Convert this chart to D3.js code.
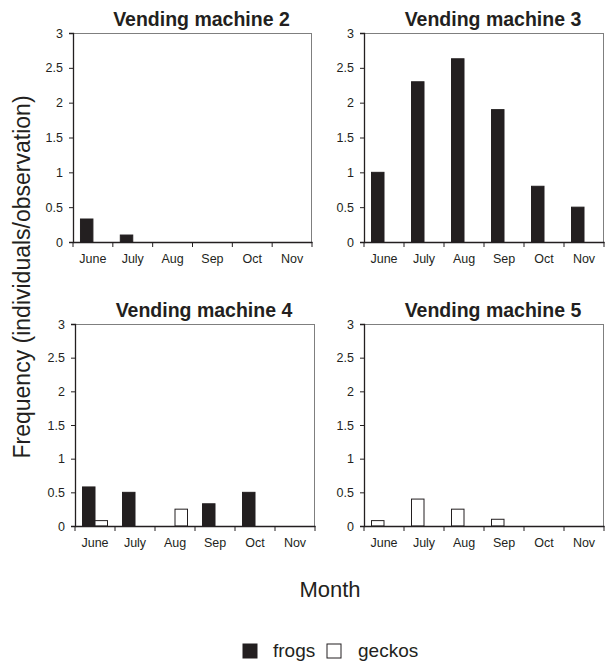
<!DOCTYPE html>
<html><head><meta charset="utf-8">
<script src="https://cdn.jsdelivr.net/npm/d3@7"></script>
<style>body{margin:0;background:#fff;} text{font-family:"Liberation Sans",Arial,sans-serif;fill:#231f20;}</style>
</head><body>
<svg id="chart" width="605" height="664"></svg>
<script>
const months = ["June","July","Aug","Sep","Oct","Nov"];
const seriesNames = ["frogs","geckos"];
const vm2Frogs  = [0.33, 0.1, 0, 0, 0, 0];
const vm2Geckos = [0, 0, 0, 0, 0, 0];
const vm3Frogs  = [1.0, 2.3, 2.63, 1.9, 0.8, 0.5];
const vm3Geckos = [0, 0, 0, 0, 0, 0];
const vm4Frogs  = [0.58, 0.5, 0, 0.33, 0.5, 0];
const vm4Geckos = [0.08, 0, 0.25, 0, 0, 0];
const vm5Frogs  = [0, 0, 0, 0, 0, 0];
const vm5Geckos = [0.08, 0.4, 0.25, 0.1, 0, 0];
const yTicks = [0, 0.5, 1, 1.5, 2, 2.5, 3];
const yTickLabels = ["0","0.5","1","1.5","2","2.5","3"];

const panels = [
  {title:"Vending machine 2", frogs:vm2Frogs, geckos:vm2Geckos, order:["frogs","geckos"], x0:73, x1:312, y0:33, y1:242},
  {title:"Vending machine 3", frogs:vm3Frogs, geckos:vm3Geckos, order:["frogs","geckos"], x0:364, x1:604, y0:33, y1:242},
  {title:"Vending machine 4", frogs:vm4Frogs, geckos:vm4Geckos, order:["frogs","geckos"], x0:75, x1:315, y0:324, y1:526},
  {title:"Vending machine 5", frogs:vm5Frogs, geckos:vm5Geckos, order:["geckos","frogs"], x0:364, x1:604, y0:324, y1:526}
];
const fillOf = {frogs:"#231f20", geckos:"#ffffff"};
const svg = d3.select("#chart");
const dark = "#231f20";

panels.forEach(p => {
  const g = svg.append("g");
  const x = d3.scaleBand().domain(months).range([p.x0, p.x1]).padding(0);
  const xs = d3.scaleBand().domain(p.order).range([0, x.bandwidth()]).paddingOuter(0.6).paddingInner(0);
  const y = d3.scaleLinear().domain([0, 3]).range([p.y1, p.y0]);

  g.append("line").attr("x1", p.x0).attr("x2", p.x1).attr("y1", p.y0+0.5).attr("y2", p.y0+0.5).attr("stroke","#7f7f7f");
  g.append("line").attr("x1", p.x1-0.5).attr("x2", p.x1-0.5).attr("y1", p.y0).attr("y2", p.y1).attr("stroke","#7f7f7f");

  const rows = [];
  months.forEach((m,i) => {
    seriesNames.forEach(s => { const v = p[s][i]; if (v > 0) rows.push({m, s, v}); });
  });
  g.selectAll("rect.bar").data(rows).join("rect")
    .attr("class","bar")
    .attr("x", d => x(d.m) + xs(d.s))
    .attr("width", xs.bandwidth())
    .attr("y", d => y(d.v))
    .attr("height", d => y(0) - y(d.v))
    .attr("fill", d => fillOf[d.s])
    .attr("stroke", dark).attr("stroke-width", 1);

  const ya = d3.axisLeft(y).tickValues(yTicks).tickFormat((d,i) => yTickLabels[i]).tickSize(4).tickPadding(6);
  const yg = g.append("g").attr("transform", `translate(${p.x0},0)`).call(ya);
  yg.select(".domain").attr("stroke", dark).attr("stroke-width", 1.3);
  yg.selectAll(".tick line").attr("stroke", dark);
  yg.selectAll("text").style("font-size","12.5px").attr("fill", dark);

  const xa = d3.axisBottom(x).tickSize(0).tickPadding(12);
  const xg = g.append("g").attr("transform", `translate(0,${p.y1})`).call(xa);
  xg.select(".domain").attr("stroke", dark).attr("stroke-width", 1.3);
  xg.selectAll("text").style("font-size","12.5px").attr("fill", dark);
  const bounds = months.map(m => x(m)).concat([p.x1]);
  xg.selectAll("line.bnd").data(bounds).join("line").attr("class","bnd")
    .attr("x1", d => d).attr("x2", d => d).attr("y1", 0).attr("y2", 5).attr("stroke", dark);

  g.append("text").attr("x", (p.x0 + p.x1)/2 + 9).attr("y", p.y0 - 7)
    .attr("text-anchor","middle").style("font-size","19.5px").style("font-weight","bold")
    .text(p.title);
});

svg.append("text").attr("transform","translate(30,277) rotate(-90)").attr("text-anchor","middle")
  .style("font-size","23px").text("Frequency (individuals/observation)");
svg.append("text").attr("x",330).attr("y",597).attr("text-anchor","middle")
  .style("font-size","22px").text("Month");

const leg = svg.append("g");
const legItems = [{s:"frogs", sx:243, tx:273},{s:"geckos", sx:327, tx:358}];
leg.selectAll("rect").data(legItems).join("rect")
  .attr("x", d => d.sx).attr("y", 644).attr("width", 14).attr("height", 14)
  .attr("fill", d => fillOf[d.s]).attr("stroke", dark);
leg.selectAll("text").data(legItems).join("text")
  .attr("x", d => d.tx).attr("y", 657).style("font-size","19px").text(d => d.s);
</script>
</body></html>
